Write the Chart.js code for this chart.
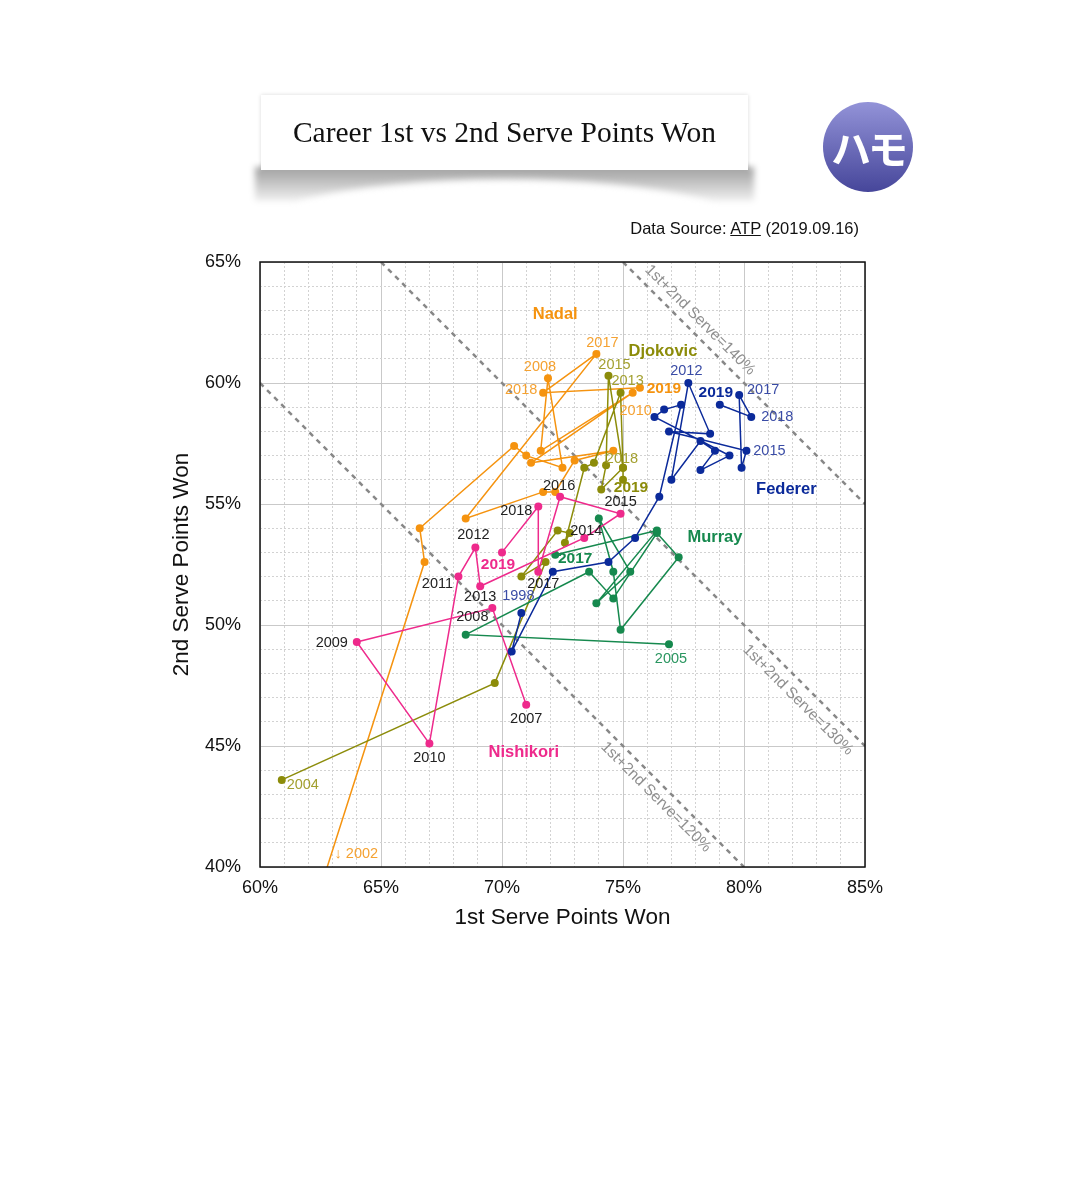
<!doctype html>
<html lang="ja">
  <head>
    <meta charset="utf-8">
    <title>Career 1st vs 2nd Serve Points Won</title>
    <script src="https://cdn.jsdelivr.net/npm/chart.js@4.4.1/dist/chart.umd.min.js"></script>
    <style>
      html, body { margin: 0; padding: 0; background: #fff; }
      body {
        width: 1068px;
        height: 1200px;
        position: relative;
        overflow: hidden;
        font-family: "Liberation Sans", Arial, sans-serif;
      }
      #chart { position: absolute; left: 0; top: 0; }

      .title-shadow {
        position: absolute;
        left: 255px;
        top: 167px;
        width: 499px;
        height: 34px;
        overflow: hidden;
        background: linear-gradient(to bottom, rgba(0,0,0,0.38), rgba(0,0,0,0.06));
        filter: blur(3px);
        z-index: 1;
      }
      .title-shadow::after {
        content: "";
        position: absolute;
        left: -6%;
        width: 112%;
        top: 12px;
        height: 130px;
        border-radius: 50%;
        background: #fff;
      }
      .title-box {
        position: absolute;
        left: 261px;
        top: 95px;
        width: 487px;
        height: 75px;
        background: #fff;
        box-shadow: 0 0 4px rgba(0,0,0,0.15);
        z-index: 2;
        display: flex;
        align-items: center;
        justify-content: center;
        font-family: "Liberation Serif", "DejaVu Serif", serif;
        font-size: 29.5px;
        color: #111;
      }
      .logo {
        position: absolute;
        left: 823px;
        top: 102px;
        width: 90px;
        height: 90px;
        border-radius: 50%;
        background: linear-gradient(to bottom, #9393d8, #46469a);
        color: #fff;
        font-family: "Noto Sans CJK JP", sans-serif;
        font-weight: 700;
        font-size: 40px;
        letter-spacing: -3px;
        display: flex;
        align-items: center;
        justify-content: center;
      }
      .source {
        position: absolute;
        right: 209px;
        top: 219px;
        font-size: 16.5px;
        color: #111;
      }
      .source u { text-decoration: underline; }
    </style>
  </head>
  <body>
    <canvas id="chart" width="1068" height="1200"></canvas>
    <div class="title-shadow"></div>
    <div class="title-box">Career 1st vs 2nd Serve Points Won</div>
    <div class="logo">ハモ</div>
    <div class="source">Data Source: <u>ATP</u> (2019.09.16)</div>

    <script>
      // --- data (career-by-year, % of points won) ---
      const federerYears  = [1998, 1999, 2000, 2001, 2002, 2003, 2004, 2005, 2006, 2007, 2008, 2009, 2010, 2011, 2012, 2013, 2014, 2015, 2016, 2017, 2018, 2019];
      const federerFirst  = [70.8, 70.4, 72.1, 74.4, 75.5, 76.5, 77.4, 76.7, 76.3, 79.4, 78.2, 78.8, 78.2, 77.0, 77.7, 78.6, 76.9, 80.1, 79.9, 79.8, 80.3, 79.0];
      const federerSecond = [50.5, 48.9, 52.2, 52.6, 53.6, 55.3, 59.1, 58.9, 58.6, 57.0, 56.4, 57.2, 57.6, 56.0, 60.0, 57.9, 58.0, 57.2, 56.5, 59.5, 58.6, 59.1];

      const nadalYears  = [2002, 2003, 2004, 2005, 2006, 2007, 2008, 2009, 2010, 2011, 2012, 2013, 2014, 2015, 2016, 2017, 2018, 2019];
      const nadalFirst  = [61.5, 66.8, 66.6, 70.5, 71.0, 72.5, 71.9, 71.6, 75.4, 71.2, 74.6, 73.0, 72.2, 71.7, 68.5, 73.9, 71.7, 75.7];
      const nadalSecond = [36.0, 52.6, 54.0, 57.4, 57.0, 56.5, 60.2, 57.2, 59.6, 56.7, 57.2, 56.8, 55.5, 55.5, 54.4, 61.2, 59.6, 59.8];

      const djokovicYears  = [2004, 2005, 2006, 2007, 2008, 2009, 2010, 2011, 2012, 2013, 2014, 2015, 2016, 2017, 2018, 2019];
      const djokovicFirst  = [60.9, 69.7, 71.8, 70.8, 72.3, 72.8, 72.6, 73.4, 73.8, 74.9, 75.0, 74.4, 74.3, 74.1, 75.0, 75.0];
      const djokovicSecond = [43.6, 47.6, 52.6, 52.0, 53.9, 53.8, 53.4, 56.5, 56.7, 59.6, 56.5, 60.3, 56.6, 55.6, 56.5, 56.0];

      const murrayYears  = [2005, 2006, 2007, 2008, 2009, 2010, 2011, 2012, 2013, 2014, 2015, 2016, 2017];
      const murrayFirst  = [76.9, 68.5, 73.6, 74.6, 76.4, 77.3, 74.9, 74.6, 74.0, 75.3, 73.9, 76.4, 72.2];
      const murraySecond = [49.2, 49.6, 52.2, 51.1, 53.8, 52.8, 49.8, 52.2, 54.4, 52.2, 50.9, 53.9, 52.9];

      const nishikoriYears  = [2007, 2008, 2009, 2010, 2011, 2012, 2013, 2014, 2015, 2016, 2017, 2018, 2019];
      const nishikoriFirst  = [71.0, 69.6, 64.0, 67.0, 68.2, 68.9, 69.1, 73.4, 74.9, 72.4, 71.5, 71.5, 70.0];
      const nishikoriSecond = [46.7, 50.7, 49.3, 45.1, 52.0, 53.2, 51.6, 53.6, 54.6, 55.3, 52.2, 54.9, 53.0];

      const xTicks = [60, 65, 70, 75, 80, 85];
      const yTicks = [40, 45, 50, 55, 60, 65];
      const serveSums = [120, 130, 140];

      // which year labels are shown, with pixel offsets from the point
      const labelSpots = {
        Nadal:     [[2002, 60, -110, '↓ 2002'], [2008, -8, -11], [2010, 3, 18], [2017, 6, -11], [2018, -22, -3], [2019, 24, 1]],
        Djokovic:  [[2004, 21, 5], [2013, 7, -12], [2015, 6, -11], [2018, -1, -9], [2019, 8, 8]],
        Federer:   [[1998, -3, -17], [2012, -2, -12], [2015, 23, 0], [2017, 24, -5], [2018, 26, 0], [2019, -4, -12]],
        Murray:    [[2005, 2, 15], [2017, 20, 4]],
        Nishikori: [[2007, 0, 14], [2008, -20, 9], [2009, -25, 1], [2010, 0, 14], [2011, -21, 7], [2012, -2, -13], [2013, 0, 11],
                    [2014, 2, -7], [2015, 0, -12], [2016, -1, -11], [2017, 5, 12], [2018, -22, 5], [2019, -4, 12]]
      };
      // player name positions (in axis units)
      const nameSpots = {
        Nadal: [72.2, 62.85], Djokovic: [76.65, 61.3], Federer: [81.75, 55.6], Murray: [78.8, 53.6], Nishikori: [70.9, 44.75]
      };
      const sumLabelSpots = { 120: [76.36, 42.89], 130: [82.23, 46.9], 140: [78.18, 62.6] };

      const FONT = '"Liberation Sans", Arial, sans-serif';

      const players = [
        { name: 'Federer',   years: federerYears,   first: federerFirst,   second: federerSecond,   color: '#0b2a9a', text: '#3a4ca6' },
        { name: 'Nishikori', years: nishikoriYears, first: nishikoriFirst, second: nishikoriSecond, color: '#ee2a8c', text: '#222222' },
        { name: 'Murray',    years: murrayYears,    first: murrayFirst,    second: murraySecond,    color: '#16894e', text: '#2a9660' },
        { name: 'Djokovic',  years: djokovicYears,  first: djokovicFirst,  second: djokovicSecond,  color: '#8c8c0a', text: '#a3a030' },
        { name: 'Nadal',     years: nadalYears,     first: nadalFirst,     second: nadalSecond,     color: '#f5930f', text: '#f5a232' }
      ];

      const datasets = players.map(p => ({
        label: p.name,
        data: p.years.map((yr, i) => ({ x: p.first[i], y: p.second[i] })),
        showLine: true,
        borderColor: p.color,
        backgroundColor: p.color,
        borderWidth: 1.5,
        pointRadius: 4,
        pointHoverRadius: 4,
        pointBorderWidth: 0
      }));

      serveSums.forEach(s => {
        const x0 = Math.max(60, s - 65), x1 = Math.min(85, s - 40);
        datasets.push({
          label: 'sum' + s,
          data: [{ x: x0, y: s - x0 }, { x: x1, y: s - x1 }],
          showLine: true,
          borderColor: '#888888',
          borderWidth: 2.5,
          borderDash: [5, 5],
          pointRadius: 0
        });
      });

      const isMajor = v => Math.abs(v - Math.round(v / 5) * 5) < 1e-6;
      const gridColor = ctx => (ctx.tick && isMajor(ctx.tick.value)) ? '#c9c9c9' : '#d2d2d2';
      const gridDash = ctx => (ctx.tick && !isMajor(ctx.tick.value)) ? [2, 2] : [];

      const annotate = {
        id: 'annotate',
        afterDatasetsDraw(chart) {
          const { ctx, chartArea: a, scales: { x, y } } = chart;
          ctx.save();
          ctx.textAlign = 'center';
          ctx.textBaseline = 'middle';

          // 1st+2nd serve labels, rotated along the dashed lines
          serveSums.forEach(s => {
            const [lx, ly] = sumLabelSpots[s];
            ctx.save();
            ctx.translate(x.getPixelForValue(lx), y.getPixelForValue(ly));
            ctx.rotate(Math.PI / 4);
            ctx.fillStyle = '#8f8f8f';
            ctx.font = '15.5px ' + FONT;
            ctx.fillText('1st+2nd Serve=' + s + '%', 0, 0);
            ctx.restore();
          });

          players.forEach(p => {
            const last = p.years[p.years.length - 1];
            labelSpots[p.name].forEach(([yr, dx, dy, txt]) => {
              const i = p.years.indexOf(yr);
              const px = x.getPixelForValue(p.first[i]) + dx;
              const py = y.getPixelForValue(p.second[i]) + dy;
              if (yr === last) {
                ctx.fillStyle = p.color;
                ctx.font = 'bold 15.5px ' + FONT;
              } else {
                ctx.fillStyle = (p.name === 'Nadal' && yr === 2002) ? '#f5a232' : p.text;
                ctx.font = '14.5px ' + FONT;
              }
              ctx.fillText(txt || String(yr), px, py);
            });
            const [nx, ny] = nameSpots[p.name];
            ctx.fillStyle = p.color;
            ctx.font = 'bold 16.5px ' + FONT;
            ctx.fillText(p.name, x.getPixelForValue(nx), y.getPixelForValue(ny));
          });

          ctx.strokeStyle = '#111';
          ctx.lineWidth = 1.5;
          ctx.strokeRect(a.left, a.top, a.right - a.left, a.bottom - a.top);
          ctx.restore();
        }
      };

      new Chart(document.getElementById('chart').getContext('2d'), {
        type: 'scatter',
        data: { datasets },
        options: {
          responsive: false,
          animation: false,
          events: [],
          layout: { padding: { left: 160, top: 262, right: 203, bottom: 266 } },
          plugins: { legend: { display: false }, tooltip: { enabled: false } },
          scales: {
            x: {
              type: 'linear',
              min: xTicks[0],
              max: xTicks[xTicks.length - 1],
              afterFit: s => { s.height = 67; },
              ticks: {
                stepSize: 1, maxTicksLimit: 100, autoSkip: false, maxRotation: 0,
                padding: 10, color: '#111', font: { size: 18, family: FONT },
                callback: v => xTicks.includes(Math.round(v)) && isMajor(v) ? Math.round(v) + '%' : ''
              },
              grid: { drawTicks: false, color: gridColor, lineWidth: 1 },
              border: { display: false, dash: gridDash },
              title: { display: true, text: '1st Serve Points Won', color: '#111', font: { size: 22.5, family: FONT }, padding: { top: 4, bottom: 3 } }
            },
            y: {
              type: 'linear',
              min: yTicks[0],
              max: yTicks[yTicks.length - 1],
              afterFit: s => { s.width = 100; },
              ticks: {
                stepSize: 1, maxTicksLimit: 100, autoSkip: false,
                padding: 19, color: '#111', font: { size: 18, family: FONT },
                callback: v => yTicks.includes(Math.round(v)) && isMajor(v) ? Math.round(v) + '%' : ''
              },
              grid: { drawTicks: false, color: gridColor, lineWidth: 1 },
              border: { display: false, dash: gridDash },
              title: { display: true, text: '2nd Serve Points Won', color: '#111', font: { size: 22.5, family: FONT }, padding: { top: 8, bottom: 4 } }
            }
          }
        },
        plugins: [annotate]
      });
    </script>
  </body>
</html>
